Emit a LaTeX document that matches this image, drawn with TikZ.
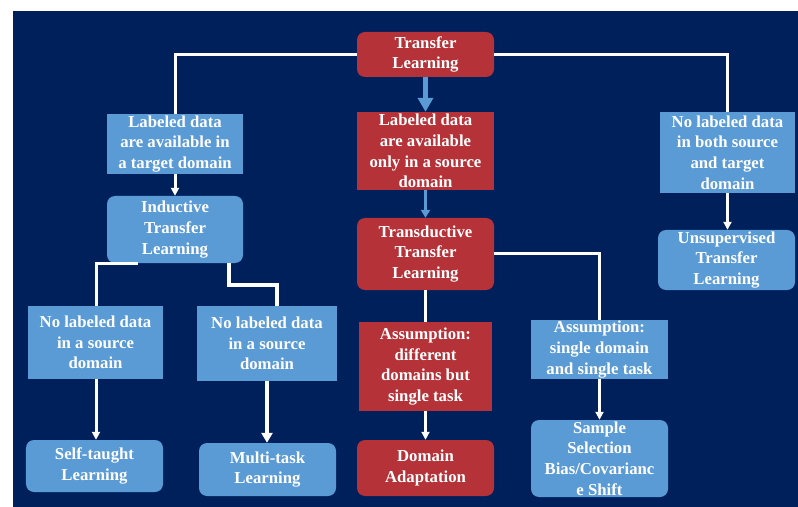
\documentclass[tikz,border=0pt]{standalone}
\usepackage{fontspec}
\setmainfont{Liberation Serif}
\usetikzlibrary{arrows.meta}
\definecolor{navy}{RGB}{0,32,91}
\definecolor{boxred}{RGB}{180,50,56}
\definecolor{boxblue}{RGB}{91,155,213}
\tikzset{
  box/.style={text=white, font=\bfseries\fontsize{16.8}{20.8}\selectfont, align=center, inner sep=0pt, draw=none},
  redsq/.style={box, fill=boxred},
  redrd/.style={box, fill=boxred, rounded corners=8bp},
  bluesq/.style={box, fill=boxblue},
  bluerd/.style={box, fill=boxblue, rounded corners=8bp},
  wline/.style={draw=white, line width=3bp},
  wlinethick/.style={draw=white, line width=4bp},
  warrow/.style={wline, -{Triangle[width=8bp,length=8bp]}},
  warrowthick/.style={wlinethick, -{Triangle[width=11bp,length=10bp]}},
  barrowbig/.style={draw=boxblue, line width=5bp, -{Triangle[width=15bp,length=14bp]}},
  barrowsmall/.style={draw=boxblue, line width=3bp, -{Triangle[width=9bp,length=8bp]}},
}
\begin{document}
\begin{tikzpicture}[x=1bp,y=-1bp]
\useasboundingbox (0,0) rectangle (798,507);
\fill[white] (0,0) rectangle (798,507);
\fill[navy] (13,11) rectangle (798,507);

% centre column (red)
\node[redrd, minimum width=137bp, minimum height=45bp] (tl) at (425.5,54.5) {Transfer\\Learning};
\node[redsq, minimum width=137bp, minimum height=78bp] (ls) at (425.5,151) {Labeled data\\are available\\only in a source\\domain};
\node[redrd, minimum width=137bp, minimum height=72bp] (td) at (425.5,254) {Transductive\\Transfer\\Learning};
\node[redsq, minimum width=133bp, minimum height=89bp] (ad) at (425.5,366.5) {Assumption:\\different\\domains but\\single task};
\node[redrd, minimum width=137bp, minimum height=56bp] (da) at (425.5,468) {Domain\\Adaptation};

% left branch
\node[bluesq, minimum width=136bp, minimum height=60bp] (lt) at (175,144) {Labeled data\\are available in\\a target domain};
\node[bluerd, minimum width=136bp, minimum height=67bp] (it) at (175,229.5) {Inductive\\Transfer\\Learning};
\node[bluesq, minimum width=134bp, minimum height=73bp] (nl1) at (95.5,342.5) {No labeled data\\in a source\\domain};
\node[bluesq, minimum width=140bp, minimum height=75bp] (nl2) at (267,343.5) {No labeled data\\in a source\\domain};
\node[bluerd, minimum width=137bp, minimum height=52bp] (st) at (94.5,466) {Self-taught\\Learning};
\node[bluerd, minimum width=137bp, minimum height=53bp] (mt) at (267.5,469.5) {Multi-task\\Learning};

% right branch
\node[bluesq, minimum width=135bp, minimum height=81bp] (nb) at (727.5,152.5) {No labeled data\\in both source\\and target\\domain};
\node[bluerd, minimum width=137bp, minimum height=60bp] (un) at (726.5,260) {Unsupervised\\Transfer\\Learning};
\node[bluesq, minimum width=137bp, minimum height=59bp] (as) at (599.5,349.5) {Assumption:\\single domain\\and single task};
\node[bluerd, minimum width=137bp, minimum height=77bp] (ss) at (599.5,458.5) {Sample\\Selection\\Bias/Covarianc\\e Shift};

% connectors
\draw[wline] (tl.west) -| (lt.north);
\draw[wline] (tl.east) -| (nb.north);
\draw[barrowbig] (tl.south) -- (ls.north);
\draw[barrowsmall] (ls.south) -- (td.north);
\draw[warrow] (lt.south) -- (it.north);
\draw[wline] ([xshift=-37bp]it.south) -| ([xshift=0.5bp]nl1.north);
\draw[wlinethick] ([xshift=54bp]it.south) -- ++(0,22) -| ([xshift=10bp]nl2.north);
\draw[warrow] ([xshift=0.5bp]nl1.south) -- ([xshift=0.5bp]nl1.south |- st.north);
\draw[warrowthick] (nl2.south) -- (nl2.south |- mt.north);
\draw[warrow] (nb.south) -- (nb.south |- un.north);
\draw[wline] (td.south) -- (ad.north);
\draw[warrow] (ad.south) -- (da.north);
\draw[wline] (td.east) -| (as.north);
\draw[warrow] (as.south) -- (ss.north);
\end{tikzpicture}
\end{document}
